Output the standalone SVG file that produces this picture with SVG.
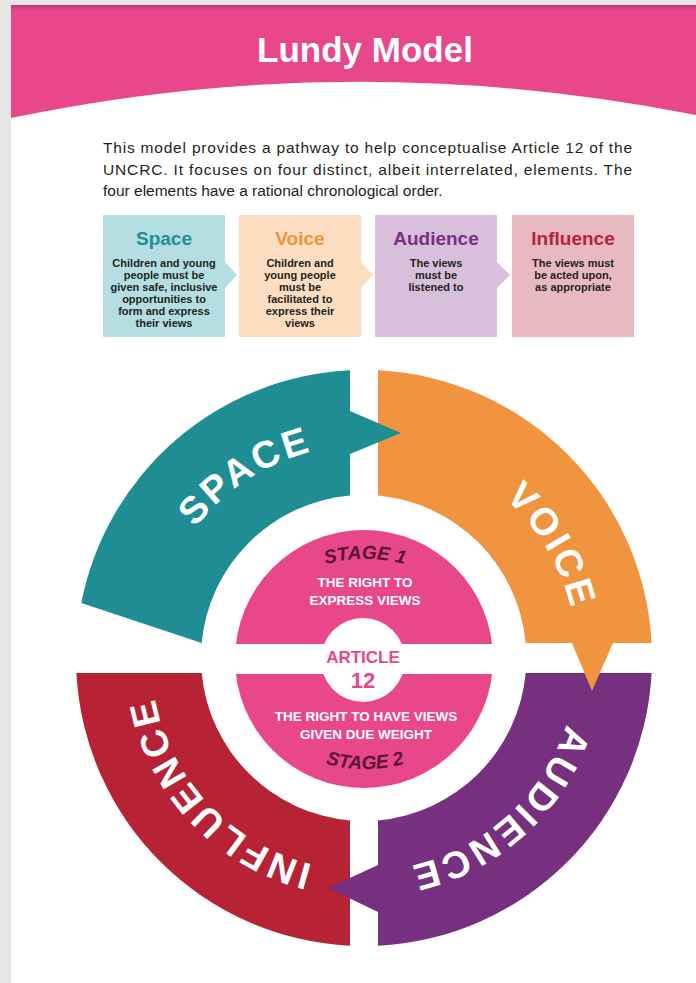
<svg xmlns="http://www.w3.org/2000/svg" width="696" height="983" viewBox="0 0 696 983">
<defs>
<style>
.ttl{font-family:"Liberation Sans",Arial,sans-serif;font-weight:bold}
.intro{font-family:"Liberation Sans",Arial,sans-serif;font-size:15.5px;fill:#231F20}
.bt{font-family:"Liberation Sans",Arial,sans-serif;font-weight:bold;font-size:19px;text-anchor:middle}
.bb{font-family:"Liberation Sans",Arial,sans-serif;font-weight:bold;font-size:11px;fill:#231F20;text-anchor:middle}
.ring{font-family:"Liberation Sans",Arial,sans-serif;font-weight:bold;font-size:38px;fill:#FFFFFF;letter-spacing:3px;text-anchor:middle}
.ctr{font-family:"Liberation Sans",Arial,sans-serif;font-weight:bold;font-size:13.5px;fill:#FFFFFF;text-anchor:middle}
.stage{font-family:"Liberation Sans",Arial,sans-serif;font-weight:bold;font-style:italic;font-size:19px;fill:#5B1338;text-anchor:middle}
</style>
<linearGradient id="shade" x1="0" y1="0" x2="0" y2="1">
<stop offset="0" stop-color="#B83A6E"/>
<stop offset="1" stop-color="#E8478A" stop-opacity="0"/>
</linearGradient>
<path id="ringPath" d="M364,445 A213,213 0 0 1 364,871 A213,213 0 0 1 364,445"/>
<path id="topArc" d="M313.7,568 A150,150 0 0 1 416.3,568"/>
<path id="botArc" d="M313.7,760 A150,150 0 0 0 416.3,760"/>
</defs>

<rect x="0" y="0" width="696" height="983" fill="#E6E6E6"/>
<rect x="11" y="5" width="685" height="978" fill="#FFFFFF"/>

<g id="header">
<rect x="11" y="5" width="685" height="120" fill="#E8478A"/>
<rect x="11" y="5" width="685" height="8" fill="url(#shade)"/>
<path d="M11,118 Q350,47 696,115 L696,130 L11,130 Z" fill="#FFFFFF"/>
<text x="365" y="62" class="ttl" font-size="35" fill="#FFFFFF" text-anchor="middle">Lundy Model</text>
</g>

<g id="intro">
<text x="103" y="153" class="intro" textLength="529" lengthAdjust="spacing">This model provides a pathway to help conceptualise Article 12 of the</text>
<text x="103" y="175" class="intro" textLength="529" lengthAdjust="spacing">UNCRC. It focuses on four distinct, albeit interrelated, elements. The</text>
<text x="103" y="196" class="intro">four elements have a rational chronological order.</text>
</g>

<g id="box-space">
<path d="M103,215 H225 V262 L237,275 L225,288 V337 H103 Z" fill="#B4DEE1"/>
<text x="164" y="245" class="bt" fill="#1F8E95">Space</text>
<text class="bb"><tspan x="164" y="267">Children and young</tspan><tspan x="164" y="279">people must be</tspan><tspan x="164" y="291">given safe, inclusive</tspan><tspan x="164" y="303">opportunities to</tspan><tspan x="164" y="315">form and express</tspan><tspan x="164" y="327">their views</tspan></text>
</g>
<g id="box-voice">
<path d="M239,215 H361 V262 L373,275 L361,288 V337 H239 Z" fill="#FCDDBF"/>
<text x="300" y="245" class="bt" fill="#F0923C">Voice</text>
<text class="bb"><tspan x="300" y="267">Children and</tspan><tspan x="300" y="279">young people</tspan><tspan x="300" y="291">must be</tspan><tspan x="300" y="303">facilitated to</tspan><tspan x="300" y="315">express their</tspan><tspan x="300" y="327">views</tspan></text>
</g>
<g id="box-audience">
<path d="M375,215 H497 V262 L510,275 L497,288 V337 H375 Z" fill="#D8C0DC"/>
<text x="436" y="245" class="bt" fill="#7B2D84">Audience</text>
<text class="bb"><tspan x="436" y="267">The views</tspan><tspan x="436" y="279">must be</tspan><tspan x="436" y="291">listened to</tspan></text>
</g>
<g id="box-influence">
<path d="M512,215 H634 V337 H512 Z" fill="#E9B9C1"/>
<text x="573" y="245" class="bt" fill="#BC1F37">Influence</text>
<text class="bb"><tspan x="573" y="267">The views must</tspan><tspan x="573" y="279">be acted upon,</tspan><tspan x="573" y="291">as appropriate</tspan></text>
</g>

<g id="ring-influence">
<path d="M350,945.66 A288,288 0 0 1 76.4,673 L201.7,673 A163,163 0 0 0 350,820.4 Z" fill="#B72234"/>
</g>
<g id="ring-audience">
<path d="M651.6,673 A288,288 0 0 1 378,945.66 L378,912 L328,888 L378,865 L378,820.4 A163,163 0 0 0 525.7,673 Z" fill="#76307F"/>
</g>
<g id="ring-voice">
<path d="M378,370.34 A288,288 0 0 1 651.6,643 L613,643 L592,691 L572,643 L525.7,643 A163,163 0 0 0 378,495.6 Z" fill="#F19440"/>
</g>
<g id="ring-space">
<path d="M350,370.34 L350,411 L401,433 L350,454 L350,495.6 A163,163 0 0 0 201.7,643 L81.3,603 A288,288 0 0 1 350,370.34 Z" fill="#1F8E94"/>
</g>

<g id="ring-labels">
<text class="ring"><textPath href="#ringPath" startOffset="1215">SPACE</textPath></text>
<text class="ring"><textPath href="#ringPath" startOffset="220">VOICE</textPath></text>
<text class="ring"><textPath href="#ringPath" startOffset="513">AUDIENCE</textPath></text>
<text class="ring"><textPath href="#ringPath" startOffset="843">INFLUENCE</textPath></text>
</g>

<g id="centre">
<circle cx="364" cy="659" r="129" fill="#E8478A"/>
<rect x="230" y="644" width="270" height="30" fill="#FFFFFF"/>
<circle cx="363" cy="660" r="42" fill="#FFFFFF"/>
<text x="363" y="663" class="ttl" font-size="17" fill="#E8478A" text-anchor="middle">ARTICLE</text>
<text x="363" y="688" class="ttl" font-size="22" fill="#E8478A" text-anchor="middle">12</text>
<text x="365" y="587" class="ctr">THE RIGHT TO</text>
<text x="365" y="605" class="ctr">EXPRESS VIEWS</text>
<text x="366" y="721" class="ctr">THE RIGHT TO HAVE VIEWS</text>
<text x="366" y="739" class="ctr">GIVEN DUE WEIGHT</text>
<text class="stage"><textPath href="#topArc" startOffset="50%">STAGE 1</textPath></text>
<text class="stage"><textPath href="#botArc" startOffset="50%">STAGE 2</textPath></text>
</g>
</svg>
